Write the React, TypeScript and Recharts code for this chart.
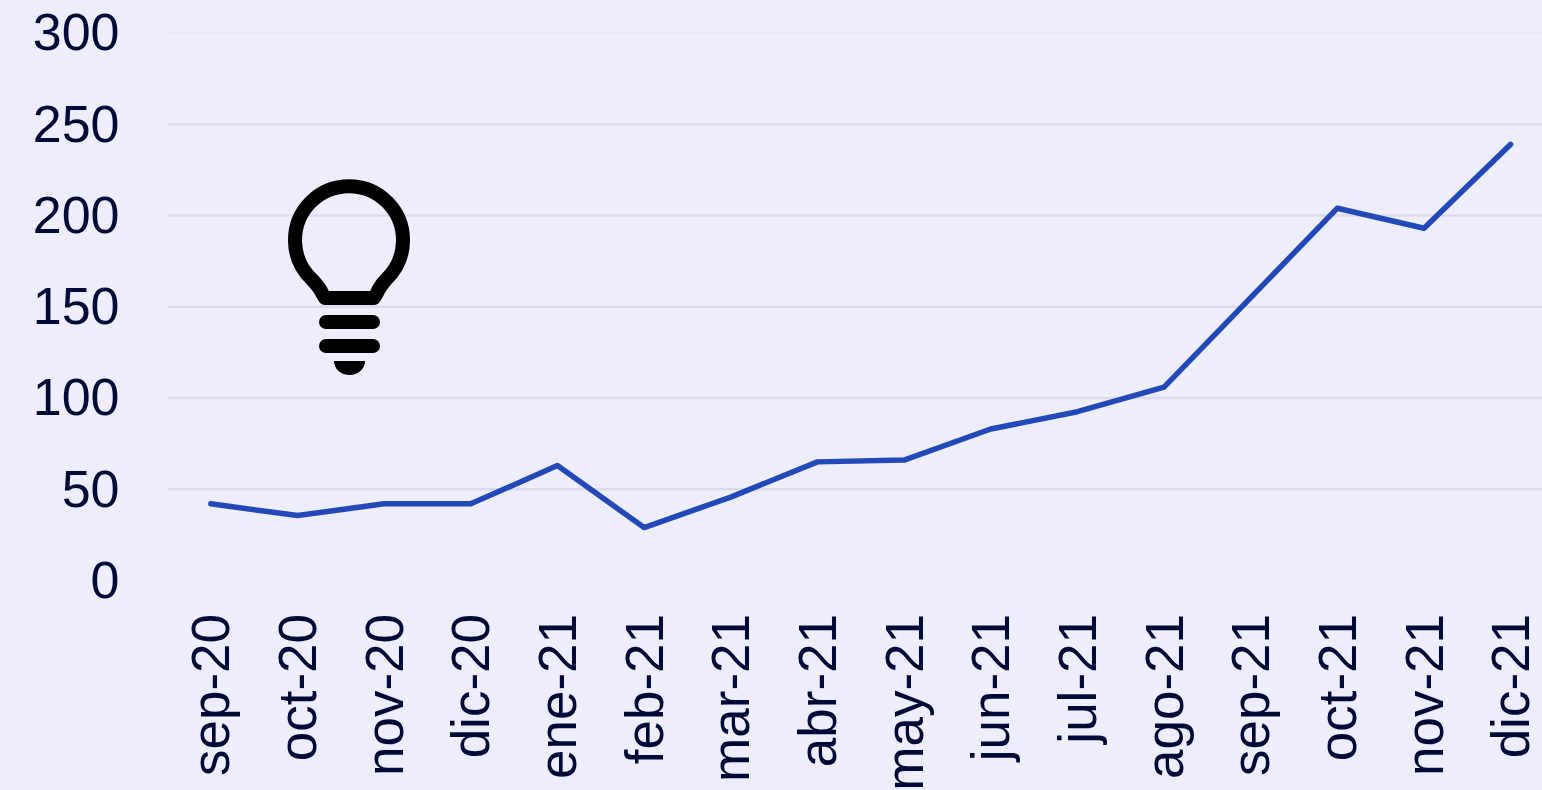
import { LineChart, Line, XAxis, YAxis, CartesianGrid } from 'recharts';

const months = ['sep-20', 'oct-20', 'nov-20', 'dic-20', 'ene-21', 'feb-21', 'mar-21', 'abr-21', 'may-21', 'jun-21', 'jul-21', 'ago-21', 'sep-21', 'oct-21', 'nov-21', 'dic-21'];
const values = [42, 35.6, 42, 42, 63, 29, 45.7, 65, 66, 83, 92.5, 106, 155, 204, 193, 239];
const yTicks = [0, 50, 100, 150, 200, 250, 300];
const gridValues = [50, 100, 150, 200, 250];
const topGridValues = [300];

const data = months.map((month, i) => ({ month, value: values[i] }));

const TEXT = '#000a36';
const FONT = '"Liberation Sans", Arial, sans-serif';

function MonthTick({ x, y, payload }: any) {
  return (
    <text
      transform={`translate(${x + 18.5},${y + 25.5}) rotate(-90)`}
      textAnchor="end"
      fontSize={53}
      fontFamily={FONT}
      fill={TEXT}
    >
      {payload.value}
    </text>
  );
}

function Bulb() {
  return (
    <svg width={1542} height={790} style={{ position: 'absolute', left: 0, top: 0 }}>
      <path
        d="M312 279.5 A54 54 0 1 1 386 279.5 C382 284 379 288 377 293 L374 298 H325 L322 293 C320 288 316 284 312 279.5 Z"
        fill="none"
        stroke="#000"
        strokeWidth={14}
        strokeLinejoin="round"
      />
      <rect x={319} y={315} width={61} height={14} rx={7} fill="#000" />
      <rect x={319} y={339} width={61} height={14} rx={7} fill="#000" />
      <path d="M334 361 H365 C365 369 358 375 349.5 375 C341 375 334 369 334 361 Z" fill="#000" />
    </svg>
  );
}

export default function App() {
  return (
    <div style={{ position: 'fixed', left: 0, top: 0, width: 1542, height: 790, overflow: 'hidden', background: '#eeedfb' }}>
      <LineChart
        width={1554}
        height={790}
        data={data}
        margin={{ top: 33, right: 0, bottom: 0, left: 0 }}
      >
        <CartesianGrid vertical={false} stroke="#dcdaef" strokeWidth={2.5} horizontalValues={gridValues} />
        <CartesianGrid vertical={false} stroke="#e8e6f6" strokeWidth={1.5} horizontalValues={topGridValues} />
        <XAxis
          dataKey="month"
          interval={0}
          axisLine={false}
          tickLine={false}
          tick={<MonthTick />}
          height={209.5}
          padding={{ left: 43.3, right: 43.3 }}
        />
        <YAxis
          domain={[0, 300]}
          ticks={yTicks}
          axisLine={false}
          tickLine={false}
          width={167.5}
          tickMargin={42}
          tick={{ fontSize: 52, fontFamily: FONT, fill: TEXT, dy: -1 }}
        />
        <Line
          type="linear"
          dataKey="value"
          stroke="#2349b8"
          strokeWidth={5.5}
          dot={false}
          strokeLinecap="round"
          strokeLinejoin="round"
          isAnimationActive={false}
        />
      </LineChart>
      <Bulb />
    </div>
  );
}
